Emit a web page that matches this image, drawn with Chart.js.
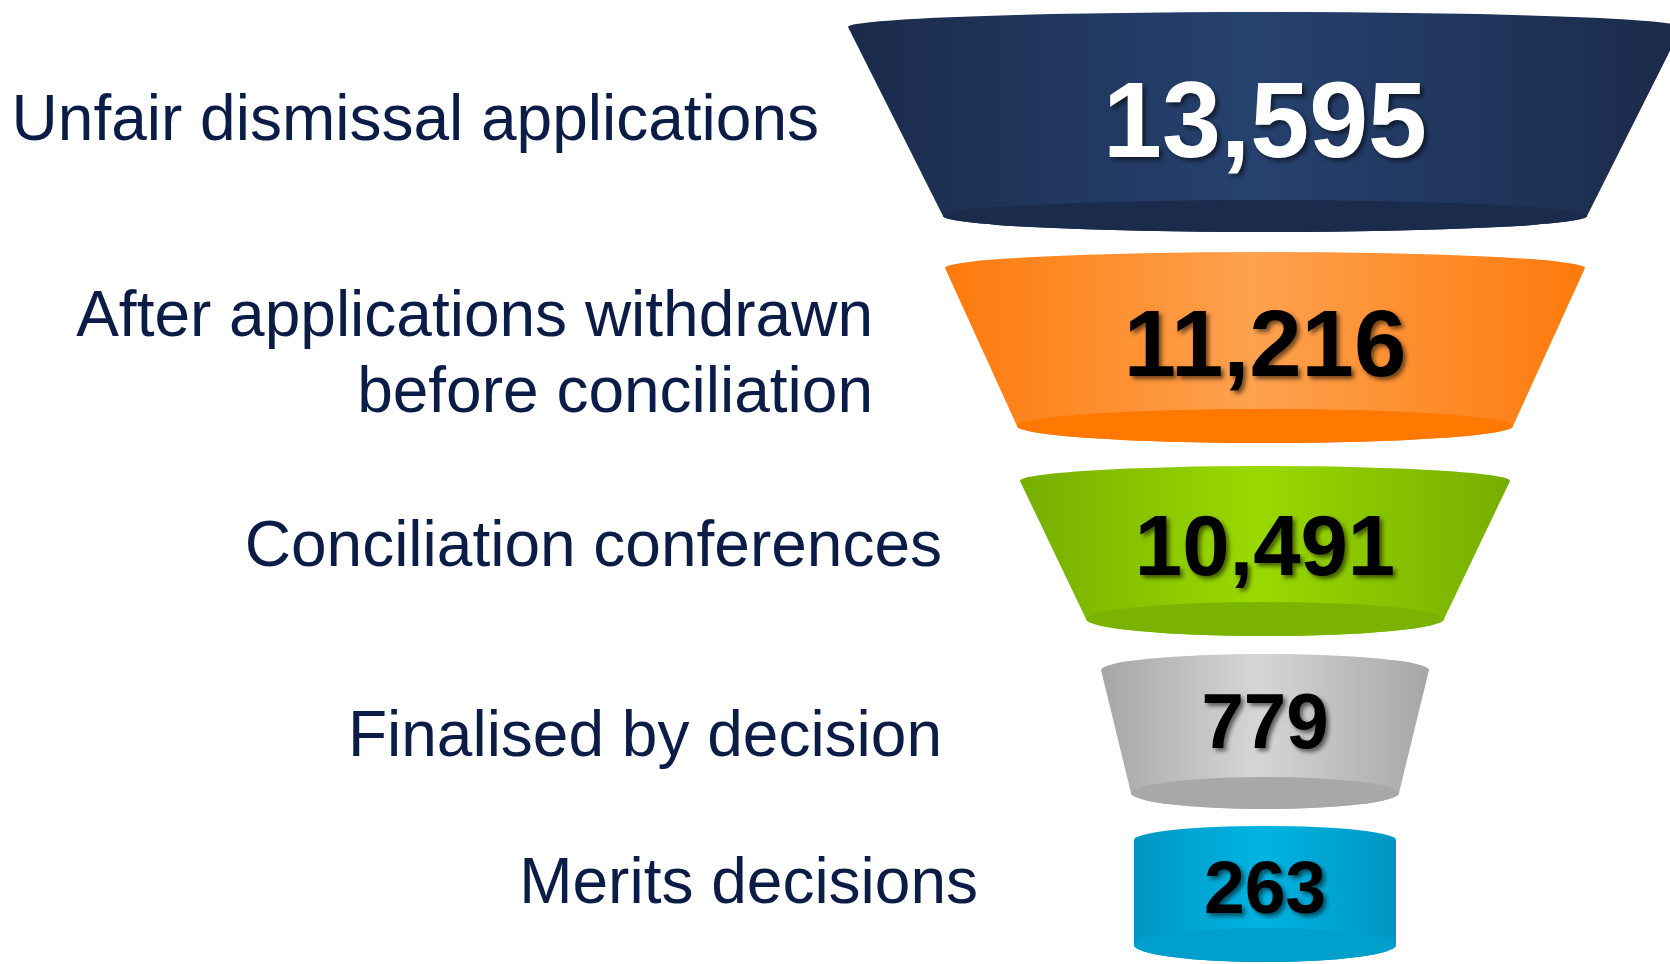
<!DOCTYPE html>
<html>
<head>
<meta charset="utf-8">
<title>Unfair dismissal funnel</title>
<script src="https://cdn.jsdelivr.net/npm/chart.js@4.4.1/dist/chart.umd.min.js"></script>
<style>
    html, body { margin: 0; padding: 0; background: #ffffff; }
    #wrap { width: 1670px; height: 964px; position: relative; }
</style>
</head>
<body>
<div id="wrap"><canvas id="funnel-chart"></canvas></div>
<script>
// data
const stages = [
    ['Unfair dismissal applications'],
    ['After applications withdrawn', 'before conciliation'],
    ['Conciliation conferences'],
    ['Finalised by decision'],
    ['Merits decisions']
];
const counts = [13595, 11216, 10491, 779, 263];

// funnel geometry, in axis units (x 0..1670, y 0..964 top-down)
const centerX = 1265;
const topHalf = [417, 320, 245, 164, 131];
const bottomHalf = [322, 248, 179, 134, 131];
const topY = [27, 268, 481, 670, 840];
const topRise = [15, 16, 15, 16, 14];
const bottomY = [216, 426, 619, 793, 945];
const bottomDrop = [16, 17, 17, 16, 17];

// text placement
const numberBase = [157, 376, 575, 748, 913];
const numberSize = [107, 95, 86, 77, 74];
const labelRight = [819, 873, 942, 942, 978];
const labelBase = [[140], [336, 412], [566], [756], [903]];

// colours: [edge, centre, bottom rim, number]
const stageColors = [
    ['#1b2a4a', '#26426f', '#1b2b4b', '#ffffff'],
    ['#fd7a0c', '#fea24f', '#ff7800', '#000000'],
    ['#76ae00', '#9ad900', '#7ab400', '#000000'],
    ['#a6a6a6', '#d6d6d6', '#a8a8a8', '#000000'],
    ['#0096c3', '#00b4e2', '#009fcc', '#000000']
];
const labelColor = '#0b1d47';

const funnelPlugin = {
    id: 'funnel',
    beforeDatasetsDraw(chart) {
        const ctx = chart.ctx;
        const xs = chart.scales.x;
        const ys = chart.scales.y;
        for (let i = 0; i < counts.length; i++) {
            const cx = xs.getPixelForValue(centerX);
            const rxT = cx - xs.getPixelForValue(centerX - topHalf[i]);
            const rxB = cx - xs.getPixelForValue(centerX - bottomHalf[i]);
            const yT = ys.getPixelForValue(topY[i]);
            const yB = ys.getPixelForValue(bottomY[i]);
            const ryT = ys.getPixelForValue(topY[i]) - ys.getPixelForValue(topY[i] - topRise[i]);
            const ryB = ys.getPixelForValue(bottomY[i] + bottomDrop[i]) - yB;
            const c = stageColors[i];

            // body
            let grad = ctx.createLinearGradient(cx - rxT, 0, cx + rxT, 0);
            grad.addColorStop(0, c[0]);
            grad.addColorStop(0.48, c[1]);
            grad.addColorStop(1, c[0]);
            ctx.save();
            ctx.beginPath();
            ctx.ellipse(cx, yT, rxT, ryT, 0, Math.PI, 2 * Math.PI);
            ctx.lineTo(cx + rxB, yB);
            ctx.ellipse(cx, yB, rxB, ryB, 0, 0, Math.PI);
            ctx.closePath();
            ctx.fillStyle = grad;
            ctx.fill();

            // bottom rim
            ctx.beginPath();
            ctx.ellipse(cx, yB, rxB, ryB, 0, 0, 2 * Math.PI);
            ctx.fillStyle = c[2];
            ctx.fill();
            ctx.restore();
        }
    },
    afterDatasetsDraw(chart) {
        const ctx = chart.ctx;
        const xs = chart.scales.x;
        const ys = chart.scales.y;
        for (let i = 0; i < counts.length; i++) {
            // numbers
            ctx.save();
            ctx.translate(xs.getPixelForValue(centerX), ys.getPixelForValue(numberBase[i]));
            ctx.scale(0.99, 1);
            ctx.font = 'bold ' + numberSize[i] + 'px "Liberation Sans", Arial, sans-serif';
            ctx.textAlign = 'center';
            ctx.textBaseline = 'alphabetic';
            ctx.shadowColor = 'rgba(0, 0, 0, 0.55)';
            ctx.shadowOffsetX = 3;
            ctx.shadowOffsetY = 3;
            ctx.shadowBlur = 4;
            ctx.fillStyle = stageColors[i][3];
            ctx.fillText(counts[i].toLocaleString('en-US'), 0, 0);
            ctx.restore();

            // stage labels
            ctx.save();
            ctx.font = '64px "Liberation Sans", Arial, sans-serif';
            ctx.textAlign = 'right';
            ctx.textBaseline = 'alphabetic';
            ctx.fillStyle = labelColor;
            stages[i].forEach((line, j) => {
                ctx.fillText(line, xs.getPixelForValue(labelRight[i]), ys.getPixelForValue(labelBase[i][j]));
            });
            ctx.restore();
        }
    }
};

new Chart(document.getElementById('funnel-chart'), {
    type: 'scatter',
    data: {
        datasets: [{
            label: 'Applications',
            data: counts.map((v, i) => ({ x: centerX, y: numberBase[i], count: v })),
            pointRadius: 0,
            pointHoverRadius: 0
        }]
    },
    options: {
        responsive: true,
        maintainAspectRatio: false,
        animation: false,
        layout: { padding: 0 },
        scales: {
            x: { type: 'linear', min: 0, max: 1670, display: false },
            y: { type: 'linear', min: 0, max: 964, reverse: true, display: false }
        },
        plugins: {
            legend: { display: false },
            tooltip: {
                callbacks: {
                    label: function (context) {
                        return stages[context.dataIndex].join(' ') + ': ' + context.raw.count.toLocaleString('en-US');
                    }
                }
            }
        }
    },
    plugins: [funnelPlugin]
});
</script>
</body>
</html>
